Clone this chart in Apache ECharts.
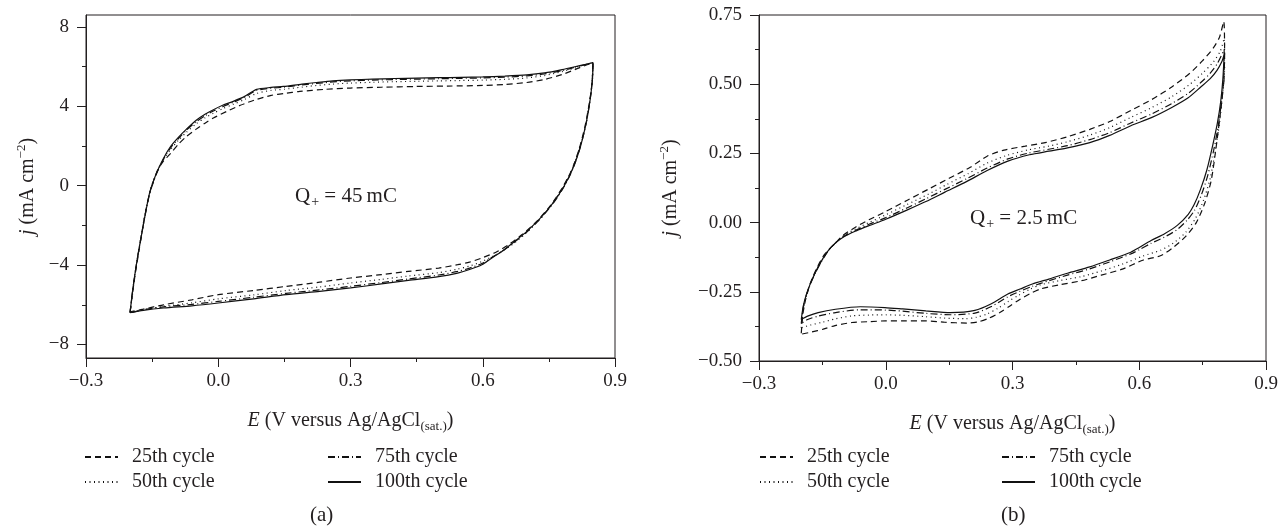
<!DOCTYPE html>
<html>
<head>
<meta charset="utf-8">
<script src="https://cdn.jsdelivr.net/npm/echarts@6.0.0/dist/echarts.min.js"></script>
<style>
html, body { margin: 0; padding: 0; background: #fff; }
#chart { width: 1280px; height: 531px; }
</style>
</head>
<body>
<div id="chart"></div>
<script>
// cycle names, same for both panels
var cycleNames = ['25th cycle', '50th cycle', '75th cycle', '100th cycle'];
var yMinorA = [-6, -2, 2, 6];
var yTicksA = [-8, -4, 0, 4, 8];

// panel (a): [E, j], anodic sweep then cathodic sweep
var a25 = [[-0.2,-6.35],[-0.195,-5.5],[-0.188,-4.4],[-0.18,-3.3],[-0.172,-2.2],[-0.163,-1.1],[-0.152,-0.1],[-0.138,0.75],[-0.124,1.25],[-0.109,1.6],[-0.09,2.1],[-0.072,2.48],[-0.05,2.85],[-0.03,3.15],[-0.011,3.41],[0.02,3.75],[0.05,4.05],[0.087,4.35],[0.12,4.55],[0.15,4.65],[0.185,4.75],[0.24,4.85],[0.3,4.92],[0.37,4.96],[0.45,5.0],[0.52,5.02],[0.6,5.05],[0.65,5.1],[0.7,5.2],[0.74,5.35],[0.78,5.6],[0.82,5.95],[0.85,6.2],
  [0.848,5.2],[0.842,4.2],[0.832,3.0],[0.818,1.8],[0.8,0.7],[0.775,-0.3],[0.75,-1.1],[0.72,-1.85],[0.69,-2.45],[0.66,-2.95],[0.63,-3.35],[0.598,-3.64],[0.57,-3.85],[0.543,-3.98],[0.5,-4.15],[0.431,-4.32],[0.37,-4.48],[0.3,-4.65],[0.23,-4.86],[0.154,-5.07],[0.08,-5.28],[0.0,-5.49],[-0.06,-5.75],[-0.124,-6.0],[-0.17,-6.22],[-0.2,-6.35]];
var a50 = [[-0.2,-6.38],[-0.195,-5.55],[-0.189,-4.5],[-0.182,-3.45],[-0.174,-2.4],[-0.165,-1.3],[-0.154,-0.2],[-0.139,0.7],[-0.125,1.3],[-0.109,1.8],[-0.09,2.3],[-0.072,2.7],[-0.05,3.12],[-0.03,3.42],[-0.011,3.65],[0.01,3.88],[0.034,4.1],[0.06,4.35],[0.087,4.65],[0.12,4.8],[0.15,4.86],[0.19,4.97],[0.223,5.05],[0.26,5.12],[0.3,5.17],[0.35,5.21],[0.4,5.24],[0.45,5.26],[0.5,5.28],[0.55,5.3],[0.6,5.32],[0.65,5.36],[0.7,5.43],[0.74,5.55],[0.78,5.75],[0.82,6.0],[0.85,6.2],
  [0.848,5.3],[0.843,4.3],[0.834,3.1],[0.82,1.9],[0.802,0.8],[0.78,-0.15],[0.755,-1.0],[0.725,-1.8],[0.695,-2.45],[0.665,-3.0],[0.635,-3.42],[0.598,-3.82],[0.57,-4.05],[0.543,-4.2],[0.5,-4.38],[0.431,-4.55],[0.37,-4.72],[0.3,-4.9],[0.23,-5.1],[0.154,-5.28],[0.08,-5.5],[0.0,-5.7],[-0.06,-5.9],[-0.124,-6.08],[-0.17,-6.25],[-0.2,-6.38]];
var a75 = [[-0.2,-6.4],[-0.196,-5.6],[-0.19,-4.6],[-0.183,-3.6],[-0.175,-2.6],[-0.166,-1.5],[-0.155,-0.35],[-0.14,0.6],[-0.125,1.3],[-0.109,1.88],[-0.09,2.38],[-0.072,2.8],[-0.05,3.22],[-0.03,3.52],[-0.011,3.76],[0.01,3.98],[0.034,4.2],[0.06,4.45],[0.087,4.8],[0.12,4.91],[0.148,4.96],[0.19,5.08],[0.223,5.15],[0.26,5.23],[0.3,5.28],[0.35,5.32],[0.4,5.35],[0.45,5.37],[0.5,5.39],[0.55,5.41],[0.6,5.43],[0.65,5.47],[0.7,5.53],[0.74,5.63],[0.78,5.8],[0.82,6.03],[0.85,6.2],
  [0.849,5.4],[0.844,4.4],[0.835,3.2],[0.822,2.0],[0.805,0.88],[0.785,-0.03],[0.76,-0.88],[0.73,-1.68],[0.7,-2.33],[0.67,-2.88],[0.644,-3.3],[0.62,-3.62],[0.598,-3.92],[0.57,-4.15],[0.543,-4.32],[0.5,-4.5],[0.431,-4.7],[0.37,-4.88],[0.3,-5.07],[0.23,-5.25],[0.154,-5.42],[0.08,-5.62],[0.0,-5.83],[-0.06,-5.98],[-0.124,-6.1],[-0.17,-6.25],[-0.2,-6.4]];
var a100 = [[-0.2,-6.4],[-0.196,-5.6],[-0.19,-4.6],[-0.183,-3.6],[-0.175,-2.6],[-0.166,-1.5],[-0.155,-0.3],[-0.14,0.64],[-0.125,1.35],[-0.109,1.95],[-0.09,2.45],[-0.072,2.85],[-0.05,3.3],[-0.03,3.6],[-0.011,3.83],[0.01,4.05],[0.034,4.25],[0.06,4.5],[0.087,4.85],[0.12,4.95],[0.148,5.0],[0.19,5.12],[0.223,5.2],[0.26,5.28],[0.3,5.33],[0.35,5.37],[0.4,5.4],[0.45,5.42],[0.5,5.44],[0.55,5.46],[0.6,5.48],[0.65,5.52],[0.7,5.58],[0.74,5.68],[0.78,5.85],[0.82,6.05],[0.85,6.2],
  [0.849,5.4],[0.844,4.4],[0.835,3.2],[0.822,2.0],[0.805,0.9],[0.785,0.0],[0.76,-0.85],[0.73,-1.65],[0.7,-2.3],[0.67,-2.85],[0.644,-3.3],[0.62,-3.65],[0.598,-3.98],[0.57,-4.22],[0.543,-4.4],[0.5,-4.58],[0.431,-4.77],[0.37,-4.95],[0.3,-5.15],[0.23,-5.32],[0.154,-5.49],[0.08,-5.7],[0.0,-5.91],[-0.06,-6.05],[-0.124,-6.16],[-0.17,-6.28],[-0.2,-6.4]];

// panel (b)
var b25 = [[-0.2,-0.4],[-0.196,-0.33],[-0.19,-0.28],[-0.18,-0.225],[-0.165,-0.17],[-0.145,-0.115],[-0.12,-0.075],[-0.1,-0.045],[-0.07,-0.015],[-0.04,0.01],[0.0,0.04],[0.05,0.08],[0.1,0.12],[0.15,0.16],[0.2,0.2],[0.24,0.24],[0.28,0.262],[0.33,0.276],[0.38,0.29],[0.43,0.31],[0.483,0.337],[0.53,0.365],[0.58,0.405],[0.63,0.445],[0.677,0.49],[0.72,0.54],[0.75,0.585],[0.775,0.63],[0.79,0.67],[0.8,0.726],
  [0.802,0.6],[0.798,0.48],[0.79,0.37],[0.78,0.25],[0.77,0.15],[0.755,0.07],[0.735,0.0],[0.71,-0.05],[0.68,-0.09],[0.65,-0.12],[0.61,-0.135],[0.56,-0.168],[0.51,-0.19],[0.463,-0.21],[0.41,-0.225],[0.366,-0.24],[0.34,-0.258],[0.318,-0.277],[0.295,-0.3],[0.27,-0.325],[0.245,-0.345],[0.22,-0.358],[0.192,-0.363],[0.14,-0.36],[0.095,-0.355],[0.04,-0.355],[0.0,-0.355],[-0.04,-0.358],[-0.08,-0.361],[-0.12,-0.372],[-0.148,-0.385],[-0.175,-0.395],[-0.2,-0.403]];
var b50 = [[-0.2,-0.38],[-0.196,-0.315],[-0.189,-0.27],[-0.178,-0.22],[-0.162,-0.165],[-0.14,-0.11],[-0.12,-0.075],[-0.1,-0.047],[-0.07,-0.022],[-0.04,0.0],[0.0,0.028],[0.05,0.065],[0.1,0.102],[0.145,0.138],[0.195,0.177],[0.24,0.215],[0.285,0.242],[0.335,0.262],[0.385,0.276],[0.43,0.292],[0.483,0.316],[0.53,0.343],[0.58,0.38],[0.63,0.416],[0.677,0.455],[0.72,0.5],[0.75,0.54],[0.775,0.58],[0.792,0.62],[0.801,0.665],
  [0.802,0.56],[0.797,0.46],[0.79,0.36],[0.78,0.26],[0.768,0.16],[0.752,0.08],[0.733,0.015],[0.71,-0.035],[0.68,-0.075],[0.65,-0.1],[0.61,-0.12],[0.56,-0.15],[0.51,-0.175],[0.463,-0.195],[0.41,-0.21],[0.366,-0.225],[0.34,-0.242],[0.315,-0.262],[0.29,-0.285],[0.265,-0.31],[0.24,-0.33],[0.215,-0.342],[0.19,-0.347],[0.14,-0.345],[0.095,-0.34],[0.04,-0.335],[0.0,-0.333],[-0.04,-0.334],[-0.08,-0.337],[-0.12,-0.348],[-0.15,-0.36],[-0.178,-0.37],[-0.2,-0.38]];
var b75 = [[-0.2,-0.365],[-0.195,-0.305],[-0.188,-0.262],[-0.177,-0.217],[-0.16,-0.162],[-0.138,-0.106],[-0.12,-0.075],[-0.1,-0.05],[-0.07,-0.027],[-0.041,-0.007],[0.0,0.018],[0.05,0.053],[0.095,0.086],[0.14,0.12],[0.192,0.159],[0.24,0.197],[0.289,0.23],[0.34,0.252],[0.386,0.265],[0.43,0.278],[0.483,0.3],[0.53,0.325],[0.58,0.36],[0.63,0.393],[0.677,0.43],[0.715,0.466],[0.745,0.505],[0.768,0.54],[0.785,0.575],[0.801,0.625],
  [0.801,0.53],[0.795,0.44],[0.787,0.35],[0.776,0.26],[0.762,0.17],[0.747,0.1],[0.731,0.045],[0.714,0.01],[0.69,-0.025],[0.66,-0.052],[0.628,-0.075],[0.6,-0.098],[0.58,-0.113],[0.53,-0.142],[0.483,-0.167],[0.43,-0.19],[0.386,-0.21],[0.347,-0.23],[0.318,-0.248],[0.289,-0.268],[0.25,-0.303],[0.211,-0.327],[0.153,-0.333],[0.095,-0.328],[0.04,-0.32],[0.0,-0.316],[-0.06,-0.315],[-0.119,-0.325],[-0.16,-0.338],[-0.185,-0.35],[-0.2,-0.365]];
var b100 = [[-0.2,-0.35],[-0.195,-0.3],[-0.188,-0.26],[-0.177,-0.215],[-0.16,-0.16],[-0.138,-0.105],[-0.12,-0.075],[-0.099,-0.051],[-0.07,-0.03],[-0.041,-0.012],[0.0,0.012],[0.05,0.045],[0.095,0.076],[0.14,0.11],[0.192,0.149],[0.24,0.188],[0.289,0.222],[0.34,0.245],[0.386,0.258],[0.43,0.27],[0.483,0.289],[0.53,0.315],[0.58,0.35],[0.63,0.38],[0.677,0.416],[0.715,0.45],[0.745,0.489],[0.768,0.52],[0.784,0.55],[0.795,0.58],[0.801,0.607],
  [0.798,0.52],[0.793,0.44],[0.785,0.36],[0.774,0.28],[0.76,0.19],[0.745,0.12],[0.73,0.065],[0.716,0.03],[0.69,-0.01],[0.66,-0.04],[0.628,-0.065],[0.6,-0.09],[0.58,-0.107],[0.53,-0.135],[0.483,-0.16],[0.43,-0.183],[0.386,-0.204],[0.347,-0.222],[0.318,-0.24],[0.289,-0.258],[0.25,-0.293],[0.211,-0.317],[0.153,-0.325],[0.095,-0.319],[0.04,-0.312],[-0.002,-0.307],[-0.06,-0.304],[-0.119,-0.313],[-0.16,-0.325],[-0.185,-0.338],[-0.2,-0.35]];

var serif = "'Liberation Serif', 'DejaVu Serif', serif";
var ink = '#231f20';
var dashes = [[6, 4], [1, 3.5], [7, 3, 1, 3], 'solid'];

var chart = echarts.init(document.getElementById('chart'));

function minus(s) { return s.replace('-', '\u2212'); }

function xAx(grid) {
    return {
        type: 'value', gridIndex: grid, min: -0.3, max: 0.9, interval: 0.3,
        name: '{i|E} (V versus Ag/AgCl{s|(sat.)})',
        nameLocation: 'middle', nameGap: 50,
        nameTextStyle: {
            fontFamily: serif, fontSize: 20, color: ink,
            rich: {
                i: { fontFamily: serif, fontSize: 20, fontStyle: 'italic', color: ink },
                s: { fontFamily: serif, fontSize: 13, color: ink, padding: [12, 0, 0, 0] }
            }
        },
        axisLine: { onZero: false, lineStyle: { color: ink, width: 1 } },
        axisTick: { length: 9, lineStyle: { color: ink } },
        minorTick: { show: true, splitNumber: 2, length: 4, lineStyle: { color: ink } },
        splitLine: { show: false },
        axisLabel: {
            margin: 14, fontFamily: serif, fontSize: 19, color: ink,
            formatter: function (v) { return minus(v.toFixed(1)); }
        }
    };
}

var yName = {
    name: '{i|j} (mA cm{s|\u22122})',
    nameLocation: 'middle',
    nameTextStyle: {
        fontFamily: serif, fontSize: 20, color: ink,
        rich: {
            i: { fontFamily: serif, fontSize: 20, fontStyle: 'italic', color: ink },
            s: { fontFamily: serif, fontSize: 13, color: ink, padding: [0, 0, 12, 0] }
        }
    }
};

var option = {
    backgroundColor: '#fff',
    animation: false,
    grid: [
        { left: 86, top: 15, width: 529, height: 343, show: true, borderColor: ink, borderWidth: 1, outerBoundsMode: 'none' },
        { left: 759, top: 15, width: 507, height: 346, show: true, borderColor: ink, borderWidth: 1, outerBoundsMode: 'none' }
    ],
    xAxis: [xAx(0), xAx(1)],
    yAxis: [
        Object.assign({
            type: 'value', gridIndex: 0, position: 'left', min: -8.68, max: 8.6, nameGap: 46,
            axisLine: { show: true, onZero: false, lineStyle: { color: ink } },
            axisTick: { show: true, length: 9, customValues: yTicksA, lineStyle: { color: ink } },
            splitLine: { show: false },
            axisLabel: {
                margin: 17, customValues: yTicksA, fontFamily: serif, fontSize: 19, color: ink,
                formatter: function (v) { return minus(String(v)); }
            }
        }, yName),
        {
            type: 'value', gridIndex: 0, position: 'left', min: -8.68, max: 8.6,
            axisLine: { show: false, onZero: false },
            axisTick: { show: true, length: 4, customValues: yMinorA, lineStyle: { color: ink } },
            axisLabel: { show: false },
            splitLine: { show: false }
        },
        Object.assign({
            type: 'value', gridIndex: 1, position: 'left', min: -0.5, max: 0.75, interval: 0.25, nameGap: 76,
            axisLine: { show: true, onZero: false, lineStyle: { color: ink } },
            axisTick: { length: 9, lineStyle: { color: ink } },
            minorTick: { show: true, splitNumber: 2, length: 4, lineStyle: { color: ink } },
            splitLine: { show: false },
            axisLabel: {
                margin: 17, fontFamily: serif, fontSize: 19, color: ink,
                formatter: function (v) { return minus(v.toFixed(2)); }
            }
        }, yName)
    ],
    legend: [],
    title: [
        { text: '{q|Q}{s|+} = 45\u2009mC', left: 295, top: 183 },
        { text: '{q|Q}{s|+} = 2.5\u2009mC', left: 970, top: 205 },
        { text: '(a)', left: 310, top: 505 },
        { text: '(b)', left: 1001, top: 505 }
    ].map(function (t) {
        t.padding = 0;
        t.textStyle = {
            fontFamily: serif, fontSize: 21, fontWeight: 'normal', color: ink,
            rich: {
                q: { fontFamily: serif, fontSize: 21, color: ink },
                s: { fontFamily: serif, fontSize: 14, color: ink, padding: [12, 0, 0, 1] }
            }
        };
        return t;
    }),
    series: []
};

var legendPos = [[84, 447, [0, 1]], [327, 447, [2, 3]], [759, 447, [0, 1]], [1001, 447, [2, 3]]];
legendPos.forEach(function (p) {
    option.legend.push({
        data: p[2].map(function (k) { return cycleNames[k]; }),
        orient: 'vertical', left: p[0], top: p[1], padding: 0,
        itemWidth: 33, itemHeight: 14, itemGap: 5,
        selectedMode: false,
        itemStyle: { opacity: 0 },
        textStyle: { fontFamily: serif, fontSize: 20, color: ink, lineHeight: 18, padding: [0, 0, 0, 9] }
    });
});

var panels = [
    { data: [a25, a50, a75, a100], x: 0, y: 0 },
    { data: [b25, b50, b75, b100], x: 1, y: 2 }
];
panels.forEach(function (p) {
    p.data.forEach(function (d, k) {
        option.series.push({
            name: cycleNames[k], type: 'line', xAxisIndex: p.x, yAxisIndex: p.y,
            data: d, symbol: 'none', smooth: 0.25,
            lineStyle: { color: '#111', width: 1.2, type: dashes[k] },
            itemStyle: { color: '#111' }
        });
    });
});

chart.setOption(option);
</script>
</body>
</html>
